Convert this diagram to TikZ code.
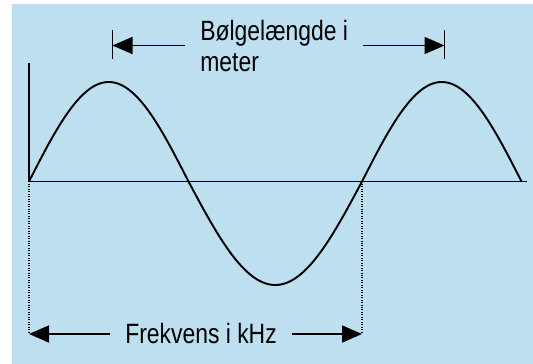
\documentclass[tikz,border=0pt]{standalone}
\usepackage{fontspec}
\newfontfamily\narrowsans{Liberation Sans}[FakeStretch=0.82]
\definecolor{wavebg}{RGB}{190,223,239}
\usetikzlibrary{arrows.meta,positioning}

\begin{document}
\begin{tikzpicture}[
  axisline/.style={black, line width=1pt},
  wave/.style={black, line width=1.1pt, samples=80, smooth},
  guide/.style={black, line width=0.6pt, dash pattern=on 0.5pt off 0.9pt},
  dimarrow/.style={black, line width=1pt, -{Triangle[length=0.4cm, width=0.34cm]}},
  dimbar/.style={black, line width=1pt},
  wavetext/.style={font=\narrowsans\fontsize{15.9}{17.6}\selectfont, inner xsep=0.3cm, inner ysep=0pt}
]
\useasboundingbox (-0.58,-3.65) rectangle (10.08,3.63);
\fill[wavebg] (-0.34,-3.65) rectangle (10.08,3.55);
% axes
\coordinate (o) at (0,0);
\coordinate (ytop) at (0,2.36);
\coordinate (xend) at (9.96,0);
\draw[axisline] (ytop) -- (o) -- (xend);
% the wave
\draw[wave] plot[domain=0:3.19] (\x,{1.99*sin(180*\x/3.19)})
  -- plot[domain=3.19:6.66] (\x,{-2.07*sin(180*(\x-3.19)/3.47)})
  -- plot[domain=6.66:9.85] (\x,{1.99*sin(180*(\x-6.66)/3.19)});
% wavelength, top
\coordinate (lbar) at (1.67,2.72);
\coordinate (rbar) at (8.31,2.72);
\draw[dimbar] ([yshift=0.30cm]lbar) -- ([yshift=-0.28cm]lbar);
\draw[dimbar] ([yshift=0.30cm]rbar) -- ([yshift=-0.28cm]rbar);
\node[wavetext, anchor=base west, align=left] (wl) at (3.12,2.2) {Bølgelængde i\\meter};
\draw[dimarrow] (wl.west |- lbar) -- (lbar);
\draw[dimarrow] (wl.east |- rbar) -- (rbar);
% frequency, bottom
\coordinate (fa) at (0,-3.05);
\coordinate (fb) at (6.66,-3.05);
\coordinate (z2) at (6.66,0);
\draw[guide] (o) -- (fa);
\draw[guide] (z2) -- (fb);
\node[wavetext] (fq) at (3.44,-3.05) {Frekvens i kHz};
\draw[dimarrow] (fq.west) -- (fa);
\draw[dimarrow] (fq.east) -- (fb);
\end{tikzpicture}
\end{document}
